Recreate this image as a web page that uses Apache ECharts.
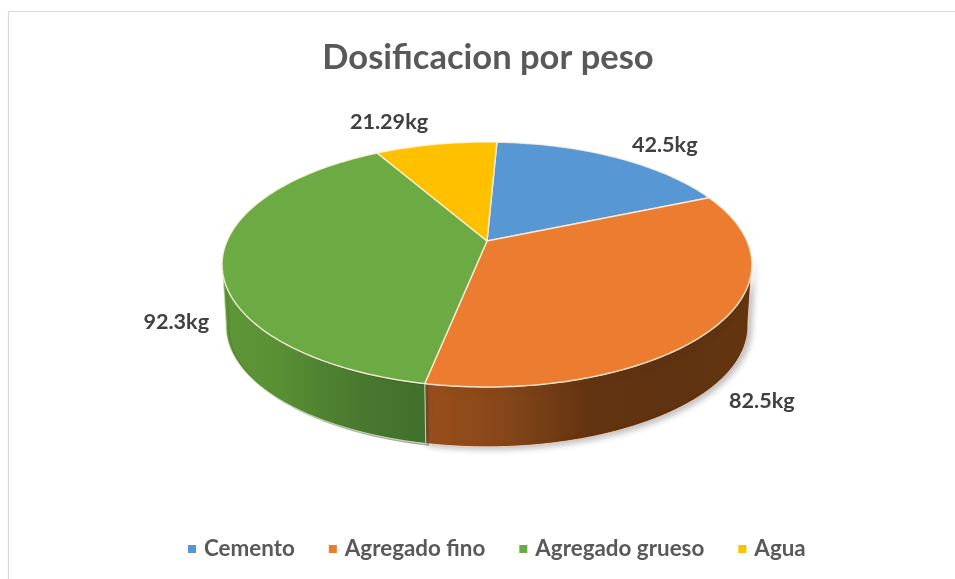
<!DOCTYPE html>
<html><head><meta charset="utf-8">
<script src="https://cdn.jsdelivr.net/npm/echarts@6/dist/echarts.min.js"></script>
<style>html,body{margin:0;padding:0;background:#fff}#c{width:955px;height:579px}</style>
</head><body><div id="c"></div>
<script>
const titleText = 'Dosificacion por peso';
const categories = ['Cemento', 'Agregado fino', 'Agregado grueso', 'Agua'];
const values = [42.5, 82.5, 92.3, 21.29];
const valueLabels = ['42.5kg', '82.5kg', '92.3kg', '21.29kg'];
const colors = ['#5797D3', '#EC7C2F', '#6CAA43', '#FFC000'];
const font = 'Lato, "Open Sans", sans-serif';

// Perspective projection of the pie disc
const P = { x: 487, y: 241, A: 260, B: 118, k: 0.1918, start: 2.6, depth: 62, shrink: 0.985 };
const labelShift = [[50, -12], [45, 76], [-46, 62], [-47, -22]];
const sideFaces = {
  1: { from: 100, stops: ['#9A4F1B', '#85461A', '#633410', '#5F3211', '#64360F'] },
  2: { to: 260, stops: ['#5F9637', '#5A9135', '#4F8231', '#47762E', '#41702C'] }
};

const total = values.reduce((a, b) => a + b, 0);
const rad = d => d * Math.PI / 180;
function rim(deg) {
  const u = Math.sin(rad(deg)), v = -Math.cos(rad(deg)), w = 1 - P.k * v;
  return [P.x + P.A * u / w, P.y + P.B * v / w];
}
function lower(p) {
  return [P.x + (p[0] - P.x) * P.shrink, P.y + (p[1] - P.y) * P.shrink + P.depth];
}
function arc(a0, a1) {
  const pts = [], n = Math.max(2, Math.ceil(Math.abs(a1 - a0)));
  for (let i = 0; i <= n; i++) pts.push(rim(a0 + (a1 - a0) * i / n));
  return pts;
}
const spans = [];
let acc = P.start;
values.forEach(v => { const s = v / total * 360; spans.push([acc, acc + s]); acc += s; });

function renderSlice(idx) {
  return function () {
    const [a0, a1] = spans[idx];
    const children = [];
    const face = sideFaces[idx];
    if (face) {
      const s0 = face.from != null ? face.from : a0;
      const s1 = face.to != null ? face.to : a1;
      const top = arc(s0, s1);
      const bottom = top.map(lower).reverse();
      const stops = face.stops.map((c, i) => ({ offset: i / (face.stops.length - 1), color: c }));
      children.push({
        type: 'polygon', z2: 1,
        shape: { points: top.concat(bottom) },
        style: {
          fill: new echarts.graphic.LinearGradient(0, 0, 1, 0, stops),
          stroke: idx === 1 ? 'rgba(250,215,185,0.85)' : 'rgba(205,235,180,0.8)',
          lineWidth: 1,
          shadowBlur: idx === 1 ? 6 : 0, shadowOffsetX: 3, shadowOffsetY: 2,
          shadowColor: 'rgba(60,60,70,0.35)'
        }
      });
    }
    children.push({
      type: 'polygon', z2: 2,
      shape: { points: [[P.x, P.y]].concat(arc(a0, a1)) },
      style: {
        fill: colors[idx],
        stroke: 'rgba(255,245,225,0.8)',
        lineWidth: 1.5, lineJoin: 'round'
      }
    });
    const mid = rim((a0 + a1) / 2);
    children.push({
      type: 'text', z2: 3,
      style: {
        text: valueLabels[idx],
        x: mid[0] + labelShift[idx][0], y: mid[1] + labelShift[idx][1],
        align: 'center', verticalAlign: 'middle',
        fill: '#404040', font: 'bold 21.6px ' + font
      }
    });
    return { type: 'group', children };
  };
}

const chart = echarts.init(document.getElementById('c'), null, { renderer: 'canvas' });
chart.setOption({
  animation: false,
  backgroundColor: '#fff',
  title: {
    text: titleText, left: 483, top: 35, textAlign: 'center',
    textStyle: { color: '#595959', fontFamily: font, fontWeight: 'bold', fontSize: 34.5 }
  },
  legend: {
    data: categories, left: 183, top: 533, icon: 'rect',
    itemWidth: 8, itemHeight: 8, itemGap: 34, selectedMode: false,
    textStyle: { color: '#595959', fontFamily: font, fontWeight: 'bold', fontSize: 22.4, padding: [0, 0, 0, 3] }
  },
  graphic: [{
    type: 'rect', silent: true, z: -1,
    shape: { x: 8.5, y: 11.5, width: 1000, height: 700 },
    style: { fill: 'none', stroke: '#D9D9D9', lineWidth: 1.2 }
  }],
  series: categories.map((name, i) => ({
    type: 'custom', name, coordinateSystem: 'none',
    itemStyle: { color: colors[i] },
    data: [values[i]],
    renderItem: renderSlice(i)
  }))
});
</script></body></html>
